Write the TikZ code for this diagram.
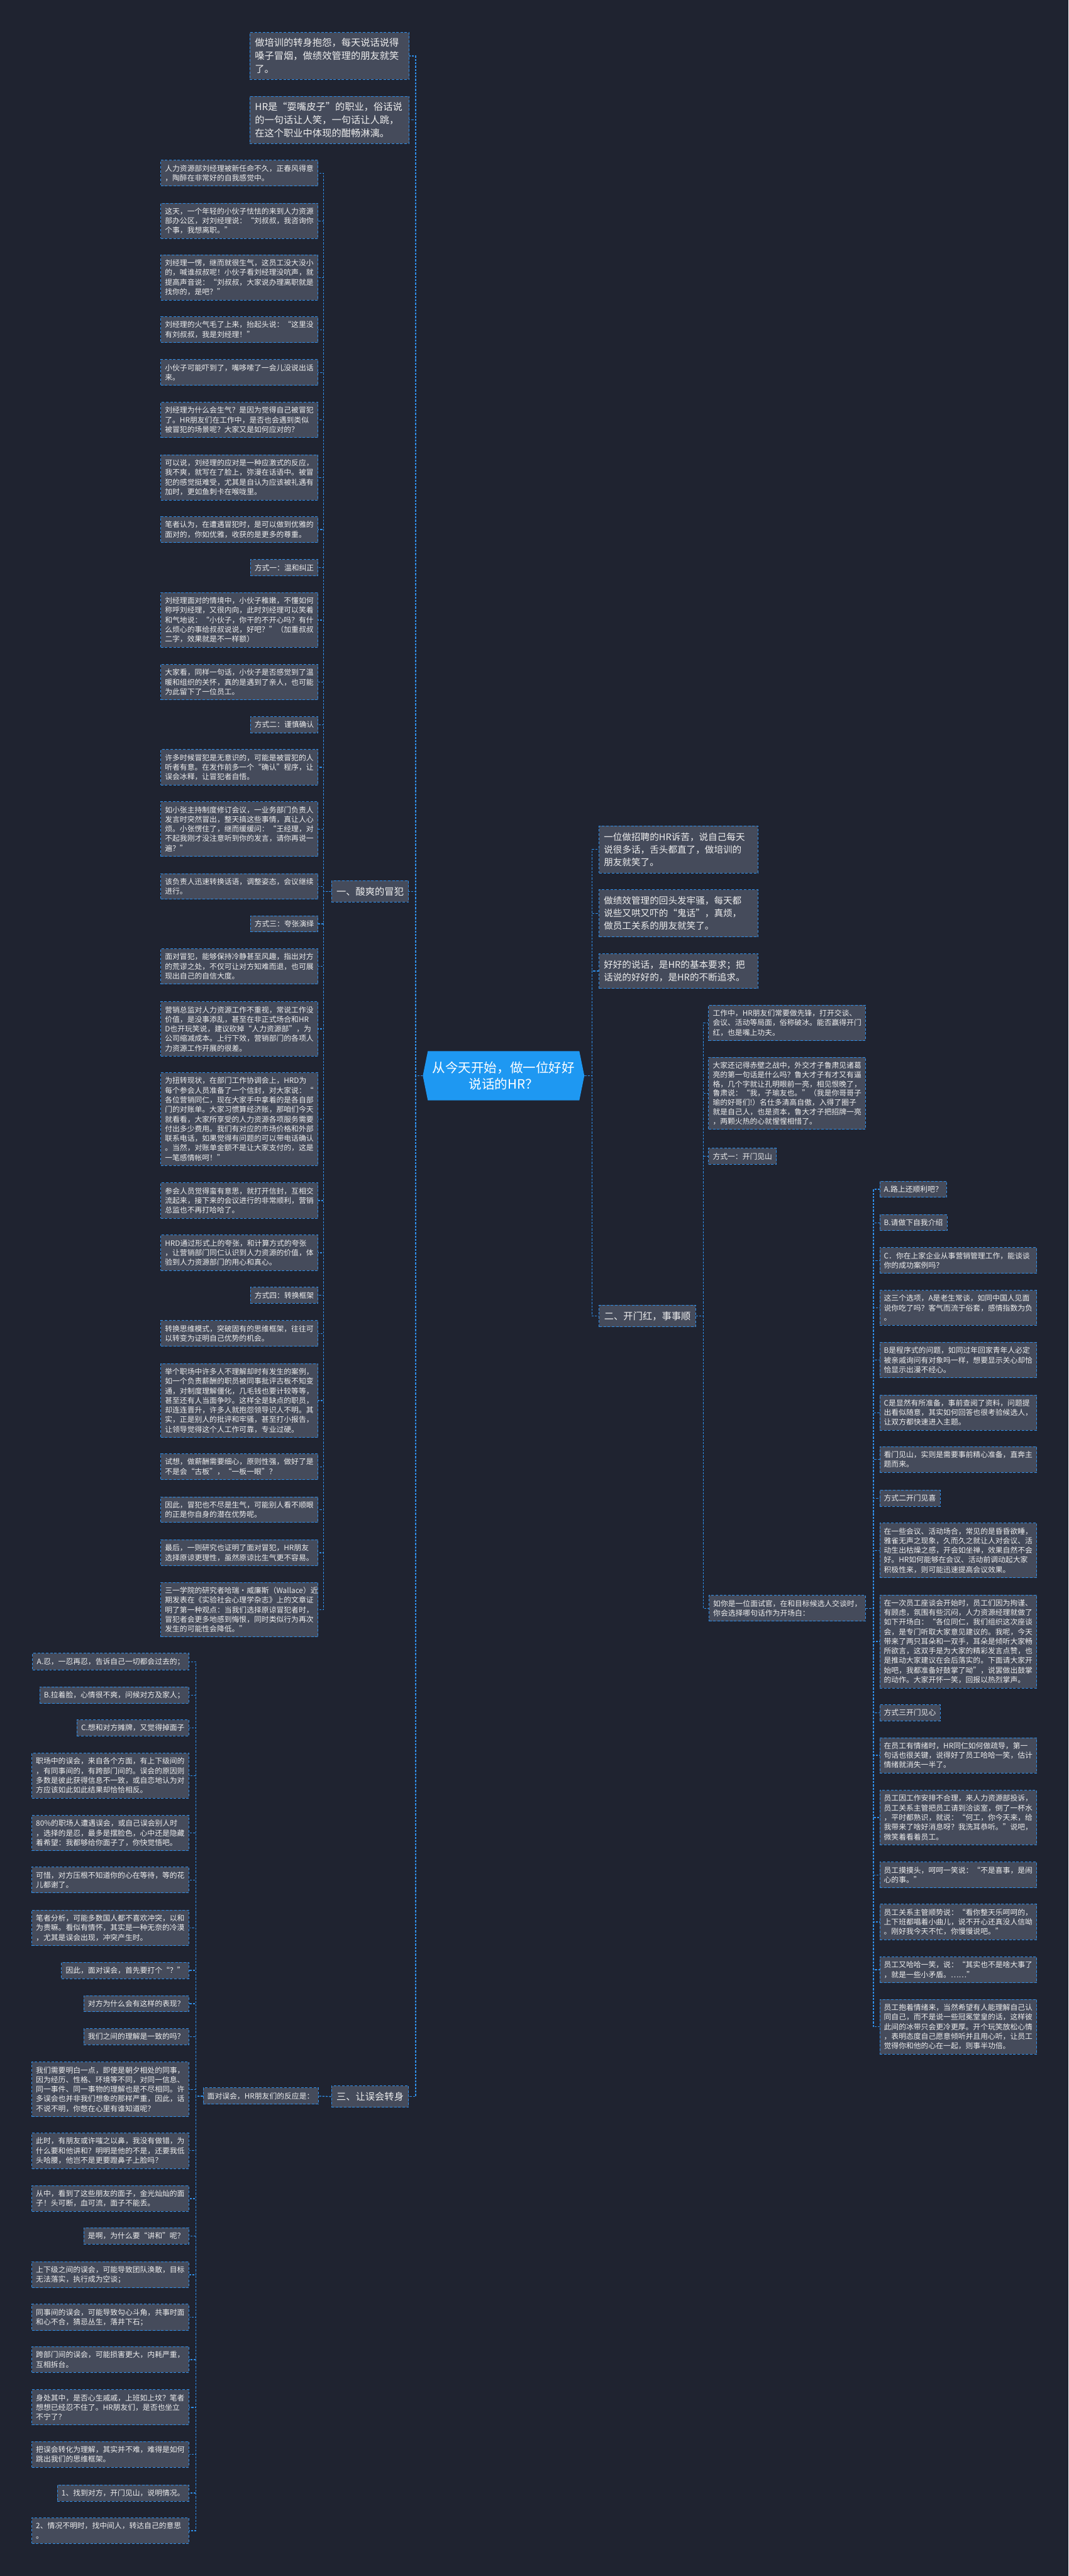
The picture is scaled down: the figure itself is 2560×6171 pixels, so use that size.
\documentclass[tikz,border=0pt]{standalone}
\usepackage{fontspec}
\setmainfont{Noto Sans CJK SC}
\definecolor{canvas}{HTML}{1F2330}
\definecolor{cardfill}{HTML}{454B5B}
\definecolor{edgeblue}{HTML}{2F8EE8}
\definecolor{hubblue}{HTML}{1E98F2}
\definecolor{inktext}{HTML}{EEEEEE}
\tikzset{
	card/.style={draw=edgeblue, fill=cardfill, line width=1.5pt, dash pattern=on 6pt off 4pt,
		text=inktext, inner xsep=10pt, inner ysep=11pt, align=left, font=\fontsize{17.8}{23}\selectfont},
	wide/.style={card, text width=357pt},
	intro/.style={card, inner xsep=12pt, inner ysep=14pt, text width=358pt, font=\fontsize{23}{31.7}\selectfont},
	lead/.style={card, inner xsep=11pt, inner ysep=16pt, text width=358pt, font=\fontsize{22}{30}\selectfont},
	branch/.style={card, inner xsep=12pt, inner ysep=15pt, font=\fontsize{23}{28}\selectfont},
	hub/.style={minimum width=387pt, minimum height=118pt, inner sep=0pt, align=center, text=white, font=\fontsize{31}{40}\selectfont},
	link/.style={draw=edgeblue, line width=2pt, dash pattern=on 5pt off 3pt},
}

\begin{document}
\begin{tikzpicture}[x=1pt,y=-1pt]
	\fill[canvas] (0,0) rectangle (2560,6171);
	% root
	\fill[hubblue] (1013,2577) -- (1025,2518) -- (1388,2518) -- (1400,2577) -- (1388,2636) -- (1025,2636) -- cycle;
	\node[hub] (root) at (1206.5,2577) {从今天开始，做一位好好\\说话的HR？};

	% intro cards
	\node[intro, anchor=north west] (T1) at (598,77) {做培训的转身抱怨，每天说话说得\\嗓子冒烟，做绩效管理的朋友就笑\\了。};
	\node[intro, anchor=north west] (T2) at (598,230) {HR是“耍嘴皮子”的职业，俗话说\\的一句话让人笑，一句话让人跳，\\在这个职业中体现的酣畅淋漓。};
	\node[lead, anchor=north west] (R1) at (1435,1978) {一位做招聘的HR诉苦，说自己每天\\说很多话，舌头都直了，做培训的\\朋友就笑了。};
	\node[lead, anchor=north west] (R2) at (1435,2131) {做绩效管理的回头发牢骚，每天都\\说些又哄又吓的“鬼话”，真烦，\\做员工关系的朋友就笑了。};
	\node[lead, anchor=north west] (R3) at (1435,2284) {好好的说话，是HR的基本要求；把\\话说的好好的，是HR的不断追求。};

	% branches
	\node[branch, anchor=north east] (one) at (980,2109) {一、酸爽的冒犯};
	\node[branch, anchor=north west] (two) at (1435,3126) {二、开门红，事事顺};
	\node[branch, anchor=north east] (three) at (980,4996) {三、让误会转身};

	% branch one
	\node[wide, anchor=north east] (L1) at (763,383) {人力资源部刘经理被新任命不久，正春风得意\\，陶醉在非常好的自我感觉中。};
	\node[wide, anchor=north east] (L2) at (763,486) {这天，一个年轻的小伙子怯怯的来到人力资源\\部办公区，对刘经理说：“刘叔叔，我咨询你\\个事，我想离职。”};
	\node[wide, anchor=north east] (L3) at (763,610) {刘经理一愣，继而就很生气，这员工没大没小\\的，喊谁叔叔呢！小伙子看刘经理没吭声，就\\提高声音说：“刘叔叔，大家说办理离职就是\\找你的，是吧？”};
	\node[wide, anchor=north east] (L4) at (763,758) {刘经理的火气毛了上来，抬起头说：“这里没\\有刘叔叔，我是刘经理！”};
	\node[wide, anchor=north east] (L5) at (763,861) {小伙子可能吓到了，嘴哆嗦了一会儿没说出话\\来。};
	\node[wide, anchor=north east] (L6) at (763,963) {刘经理为什么会生气？是因为觉得自己被冒犯\\了。HR朋友们在工作中，是否也会遇到类似\\被冒犯的场景呢？大家又是如何应对的？};
	\node[wide, anchor=north east] (L7) at (763,1089) {可以说，刘经理的应对是一种应激式的反应，\\我不爽，就写在了脸上，弥漫在话语中。被冒\\犯的感觉挺难受，尤其是自认为应该被礼遇有\\加时，更如鱼刺卡在喉咙里。};
	\node[wide, anchor=north east] (L8) at (763,1237) {笔者认为，在遭遇冒犯时，是可以做到优雅的\\面对的，你如优雅，收获的是更多的尊重。};
	\node[card, anchor=north east] (L9) at (763,1340) {方式一：温和纠正};
	\node[wide, anchor=north east] (L10) at (763,1419) {刘经理面对的情境中，小伙子稚嫩，不懂如何\\称呼刘经理，又很内向，此时刘经理可以笑着\\和气地说：“小伙子，你干的不开心吗？有什\\么烦心的事给叔叔说说，好吧？”（加重叔叔\\二字，效果就是不一样额）};
	\node[wide, anchor=north east] (L11) at (763,1591) {大家看，同样一句话，小伙子是否感觉到了温\\暖和组织的关怀，真的是遇到了亲人，也可能\\为此留下了一位员工。};
	\node[card, anchor=north east] (L12) at (763,1716) {方式二：谨慎确认};
	\node[wide, anchor=north east] (L13) at (763,1795) {许多时候冒犯是无意识的，可能是被冒犯的人\\听者有意。在发作前多一个“确认”程序，让\\误会冰释，让冒犯者自悟。};
	\node[wide, anchor=north east] (L14) at (763,1920) {如小张主持制度修订会议，一业务部门负责人\\发言时突然冒出，整天搞这些事情，真让人心\\烦。小张愣住了，继而缓缓问：“王经理，对\\不起我刚才没注意听到你的发言，请你再说一\\遍？”};
	\node[wide, anchor=north east] (L15) at (763,2092) {该负责人迅速转换话语，调整姿态，会议继续\\进行。};
	\node[card, anchor=north east] (L16) at (763,2193) {方式三：夸张演绎};
	\node[wide, anchor=north east] (L17) at (763,2272) {面对冒犯，能够保持冷静甚至风趣，指出对方\\的荒谬之处，不仅可让对方知难而退，也可展\\现出自己的自信大度。};
	\node[wide, anchor=north east] (L18) at (763,2399) {营销总监对人力资源工作不重视，常说工作没\\价值，是没事添乱，甚至在非正式场合和HR\\D也开玩笑说，建议砍掉“人力资源部”，为\\公司缩减成本。上行下效，营销部门的各项人\\力资源工作开展的很差。};
	\node[wide, anchor=north east] (L19) at (763,2569) {为扭转现状，在部门工作协调会上，HRD为\\每个参会人员准备了一个信封，对大家说：“\\各位营销同仁，现在大家手中拿着的是各自部\\门的对账单。大家习惯算经济账，那咱们今天\\就看看，大家所享受的人力资源各项服务需要\\付出多少费用。我们有对应的市场价格和外部\\联系电话，如果觉得有问题的可以带电话确认\\。当然，对账单金额不是让大家支付的，这是\\一笔感情帐呵！”};
	\node[wide, anchor=north east] (L20) at (763,2833) {参会人员觉得蛮有意思，就打开信封，互相交\\流起来，接下来的会议进行的非常顺利，营销\\总监也不再打哈哈了。};
	\node[wide, anchor=north east] (L21) at (763,2958) {HRD通过形式上的夸张，和计算方式的夸张\\，让营销部门同仁认识到人力资源的价值，体\\验到人力资源部门的用心和真心。};
	\node[card, anchor=north east] (L22) at (763,3083) {方式四：转换框架};
	\node[wide, anchor=north east] (L23) at (763,3163) {转换思维模式，突破固有的思维框架，往往可\\以转变为证明自己优势的机会。};
	\node[wide, anchor=north east] (L24) at (763,3266) {举个职场中许多人不理解却时有发生的案例，\\如一个负责薪酬的职员被同事批评古板不知变\\通，对制度理解僵化，几毛钱也要计较等等，\\甚至还有人当面争吵。这样全是缺点的职员，\\却连连晋升，许多人就抱怨领导识人不明。其\\实，正是别人的批评和牢骚，甚至打小报告，\\让领导觉得这个人工作可靠，专业过硬。};
	\node[wide, anchor=north east] (L25) at (763,3482) {试想，做薪酬需要细心，原则性强，做好了是\\不是会“古板”，“一板一眼”？};
	\node[wide, anchor=north east] (L26) at (763,3585) {因此，冒犯也不尽是生气，可能别人看不顺眼\\的正是你自身的潜在优势呢。};
	\node[wide, anchor=north east] (L27) at (763,3688) {最后，一则研究也证明了面对冒犯，HR朋友\\选择原谅更理性，虽然原谅比生气更不容易。};
	\node[wide, anchor=north east] (L28) at (763,3790) {三一学院的研究者哈瑞·威廉斯（Wallace）近\\期发表在《实验社会心理学杂志》上的文章证\\明了第一种观点：当我们选择原谅冒犯者时，\\冒犯者会更多地感到悔恨，同时类似行为再次\\发生的可能性会降低。”};

	% branch two
	\node[card, anchor=north west, text width=356pt] (S1) at (1697,2407) {工作中，HR朋友们常要做先锋，打开交谈、\\会议、活动等局面，俗称破冰。能否赢得开门\\红，也是嘴上功夫。};
	\node[card, anchor=north west, text width=356pt, font=\fontsize{17.8}{22.3}\selectfont] (S2) at (1697,2532) {大家还记得赤壁之战中，外交才子鲁肃见诸葛\\亮的第一句话是什么吗？鲁大才子有才又有逼\\格，几个字就让孔明眼前一亮，相见恨晚了，\\鲁肃说：“我，子瑜友也。”（我是你哥哥子\\瑜的好哥们!）名仕多清高自傲，入得了圈子\\就是自己人，也是资本，鲁大才子把招牌一亮\\，两颗火热的心就惺惺相惜了。};
	\node[card, anchor=north west] (S3) at (1697,2750) {方式一：开门见山};
	\node[card, anchor=north west, text width=355pt] (S4) at (1698,3821) {如你是一位面试官，在和目标候选人交谈时，\\你会选择哪句话作为开场白：};

	\node[card, anchor=north west] (P1) at (2107,2829) {A.路上还顺利吧？};
	\node[card, anchor=north west] (P2) at (2107,2909) {B.请做下自我介绍};
	\node[wide, anchor=north west, text width=356pt] (P3) at (2107,2988) {C．你在上家企业从事营销管理工作，能谈谈\\你的成功案例吗？};
	\node[wide, anchor=north west, text width=356pt] (P4) at (2107,3090) {这三个选项，A是老生常谈，如同中国人见面\\说你吃了吗？客气而流于俗套，感情指数为负\\。};
	\node[wide, anchor=north west, text width=356pt] (P5) at (2107,3215) {B是程序式的问题，如同过年回家青年人必定\\被亲戚询问有对象吗一样，想要显示关心却恰\\恰显示出漫不经心。};
	\node[wide, anchor=north west, text width=356pt] (P6) at (2107,3341) {C是显然有所准备，事前查阅了资料，问题提\\出看似随意，其实如何回答也很考验候选人，\\让双方都快速进入主题。};
	\node[wide, anchor=north west, text width=356pt] (P7) at (2107,3465) {看门见山，实则是需要事前精心准备，直奔主\\题而来。};
	\node[card, anchor=north west] (P8) at (2107,3569) {方式二开门见喜};
	\node[wide, anchor=north west, text width=356pt] (P9) at (2107,3648) {在一些会议、活动场合，常见的是昏昏欲睡，\\雅雀无声之现象，久而久之就让人对会议、活\\动生出枯燥之感，开会如坐禅，效果自然不会\\好。HR如何能够在会议、活动前调动起大家\\积极性来，则可能迅速提高会议效果。};
	\node[wide, anchor=north west, text width=356pt] (P10) at (2107,3820) {在一次员工座谈会开始时，员工们因为拘谨、\\有顾虑，氛围有些沉闷，人力资源经理就做了\\如下开场白：“各位同仁，我们组织这次座谈\\会，是专门听取大家意见建议的。我呢，今天\\带来了两只耳朵和一双手，耳朵是倾听大家畅\\所欲言，这双手是为大家的精彩发言点赞，也\\是推动大家建议在会后落实的。下面请大家开\\始吧，我都准备好鼓掌了呦”，说罢做出鼓掌\\的动作。大家开怀一笑，回报以热烈掌声。};
	\node[card, anchor=north west] (P11) at (2107,4083) {方式三开门见心};
	\node[wide, anchor=north west, text width=356pt] (P12) at (2107,4162) {在员工有情绪时，HR同仁如何做疏导，第一\\句话也很关键，说得好了员工哈哈一笑，估计\\情绪就消失一半了。};
	\node[wide, anchor=north west, text width=356pt] (P13) at (2107,4288) {员工因工作安排不合理，来人力资源部投诉，\\员工关系主管把员工请到洽谈室，倒了一杯水\\，平时都熟识，就说：“何工，你今天来，给\\我带来了啥好消息呀？我洗耳恭听。”说吧，\\微笑着看着员工。};
	\node[wide, anchor=north west, text width=356pt] (P14) at (2107,4460) {员工摸摸头，呵呵一笑说：“不是喜事，是闹\\心的事。”};
	\node[wide, anchor=north west, text width=356pt] (P15) at (2107,4561) {员工关系主管顺势说：“看你整天乐呵呵的，\\上下班都唱着小曲儿，说不开心还真没人信呦\\。刚好我今天不忙，你慢慢说吧。”};
	\node[wide, anchor=north west, text width=356pt] (P16) at (2107,4687) {员工又哈哈一笑，说：“其实也不是啥大事了\\，就是一些小矛盾。……”};
	\node[wide, anchor=north west, text width=356pt] (P17) at (2107,4789) {员工抱着情绪来，当然希望有人能理解自己认\\同自己，而不是说一些冠冕堂皇的话，这样彼\\此间的冰带只会更冷更厚。开个玩笑放松心情\\，表明态度自己愿意倾听并且用心听，让员工\\觉得你和他的心在一起，则事半功倍。};

	% branch three
	\node[card, anchor=north west] (M) at (486,5001) {面对误会，HR朋友们的反应是：};

	\node[card, anchor=north east] (B1) at (453,3960) {A.忍，一忍再忍，告诉自己一切都会过去的；};
	\node[card, anchor=north east] (B2) at (453,4040) {B.拉着脸，心情很不爽，问候对方及家人；};
	\node[card, anchor=north east] (B3) at (453,4119) {C.想和对方摊牌，又觉得掉面子};
	\node[wide, anchor=north east, text width=356pt] (B4) at (453,4199) {职场中的误会，来自各个方面，有上下级间的\\，有同事间的，有跨部门间的。误会的原因则\\多数是彼此获得信息不一致，或自恋地认为对\\方应该如此如此结果却恰恰相反。};
	\node[wide, anchor=north east, text width=356pt] (B5) at (453,4348) {80\%的职场人遭遇误会，或自己误会别人时\\，选择的是忍，最多是摆脸色，心中还是隐藏\\着希望：我都够给你面子了，你快觉悟吧。};
	\node[wide, anchor=north east, text width=356pt] (B6) at (453,4472) {可惜，对方压根不知道你的心在等待，等的花\\儿都谢了。};
	\node[wide, anchor=north east, text width=356pt] (B7) at (453,4575) {笔者分析，可能多数国人都不喜欢冲突，以和\\为贵嘛。看似有情怀，其实是一种无奈的冷漠\\，尤其是误会出现，冲突产生时。};
	\node[card, anchor=north east] (B8) at (453,4700) {因此，面对误会，首先要打个“？”};
	\node[card, anchor=north east] (B9) at (453,4780) {对方为什么会有这样的表现？};
	\node[card, anchor=north east] (B10) at (453,4859) {我们之间的理解是一致的吗？};
	\node[wide, anchor=north east, text width=356pt] (B11) at (453,4939) {我们需要明白一点，即使是朝夕相处的同事，\\因为经历、性格、环境等不同，对同一信息、\\同一事件、同一事物的理解也是不尽相同。许\\多误会也并非我们想象的那样严重，因此，话\\不说不明，你憋在心里有谁知道呢？};
	\node[wide, anchor=north east, text width=356pt] (B12) at (453,5109) {此时，有朋友或许嗤之以鼻，我没有做错，为\\什么要和他讲和？明明是他的不是，还要我低\\头哈腰，他岂不是更要蹬鼻子上脸吗？};
	\node[wide, anchor=north east, text width=356pt] (B13) at (453,5235) {从中，看到了这些朋友的面子，金光灿灿的面\\子！头可断，血可流，面子不能丢。};
	\node[card, anchor=north east] (B14) at (453,5336) {是啊，为什么要“讲和”呢？};
	\node[wide, anchor=north east, text width=356pt] (B15) at (453,5417) {上下级之间的误会，可能导致团队涣散，目标\\无法落实，执行成为空谈；};
	\node[wide, anchor=north east, text width=356pt] (B16) at (453,5519) {同事间的误会，可能导致勾心斗角，共事时面\\和心不合，猜忌丛生，落井下石；};
	\node[wide, anchor=north east, text width=356pt] (B17) at (453,5621) {跨部门间的误会，可能损害更大，内耗严重，\\互相拆台。};
	\node[wide, anchor=north east, text width=356pt] (B18) at (453,5724) {身处其中，是否心生戚戚，上班如上坟？笔者\\想想已经忍不住了。HR朋友们，是否也坐立\\不宁了？};
	\node[wide, anchor=north east, text width=356pt] (B19) at (453,5848) {把误会转化为理解，其实并不难，难得是如何\\跳出我们的思维框架。};
	\node[card, anchor=north east] (B20) at (453,5952) {1、找到对方，开门见山，说明情况。};
	\node[wide, anchor=north east, text width=356pt] (B21) at (453,6031) {2、情况不明时，找中间人，转达自己的意思\\。};

	% connectors
	\foreach \c in {T1,T2,one,three}
		\draw[link] (root.west) -- ++(-17,0) |- (\c.east);
	\foreach \c in {R1,R2,R3,two}
		\draw[link] (root.east) -- ++(18,0) |- (\c.west);
	\foreach \i in {1,...,28}
		\draw[link] (one.west) -- ++(-18,0) |- (L\i.east);
	\foreach \c in {S1,S2,S3,S4}
		\draw[link] (two.east) -- ++(18,0) |- (\c.west);
	\foreach \i in {1,...,17}
		\draw[link] (S4.east) -- ++(18,0) |- (P\i.west);
	\draw[link] (three.west) -- (M.east);
	\foreach \i in {1,...,21}
		\draw[link] (M.west) -- ++(-17,0) |- (B\i.east);
\end{tikzpicture}
\end{document}
